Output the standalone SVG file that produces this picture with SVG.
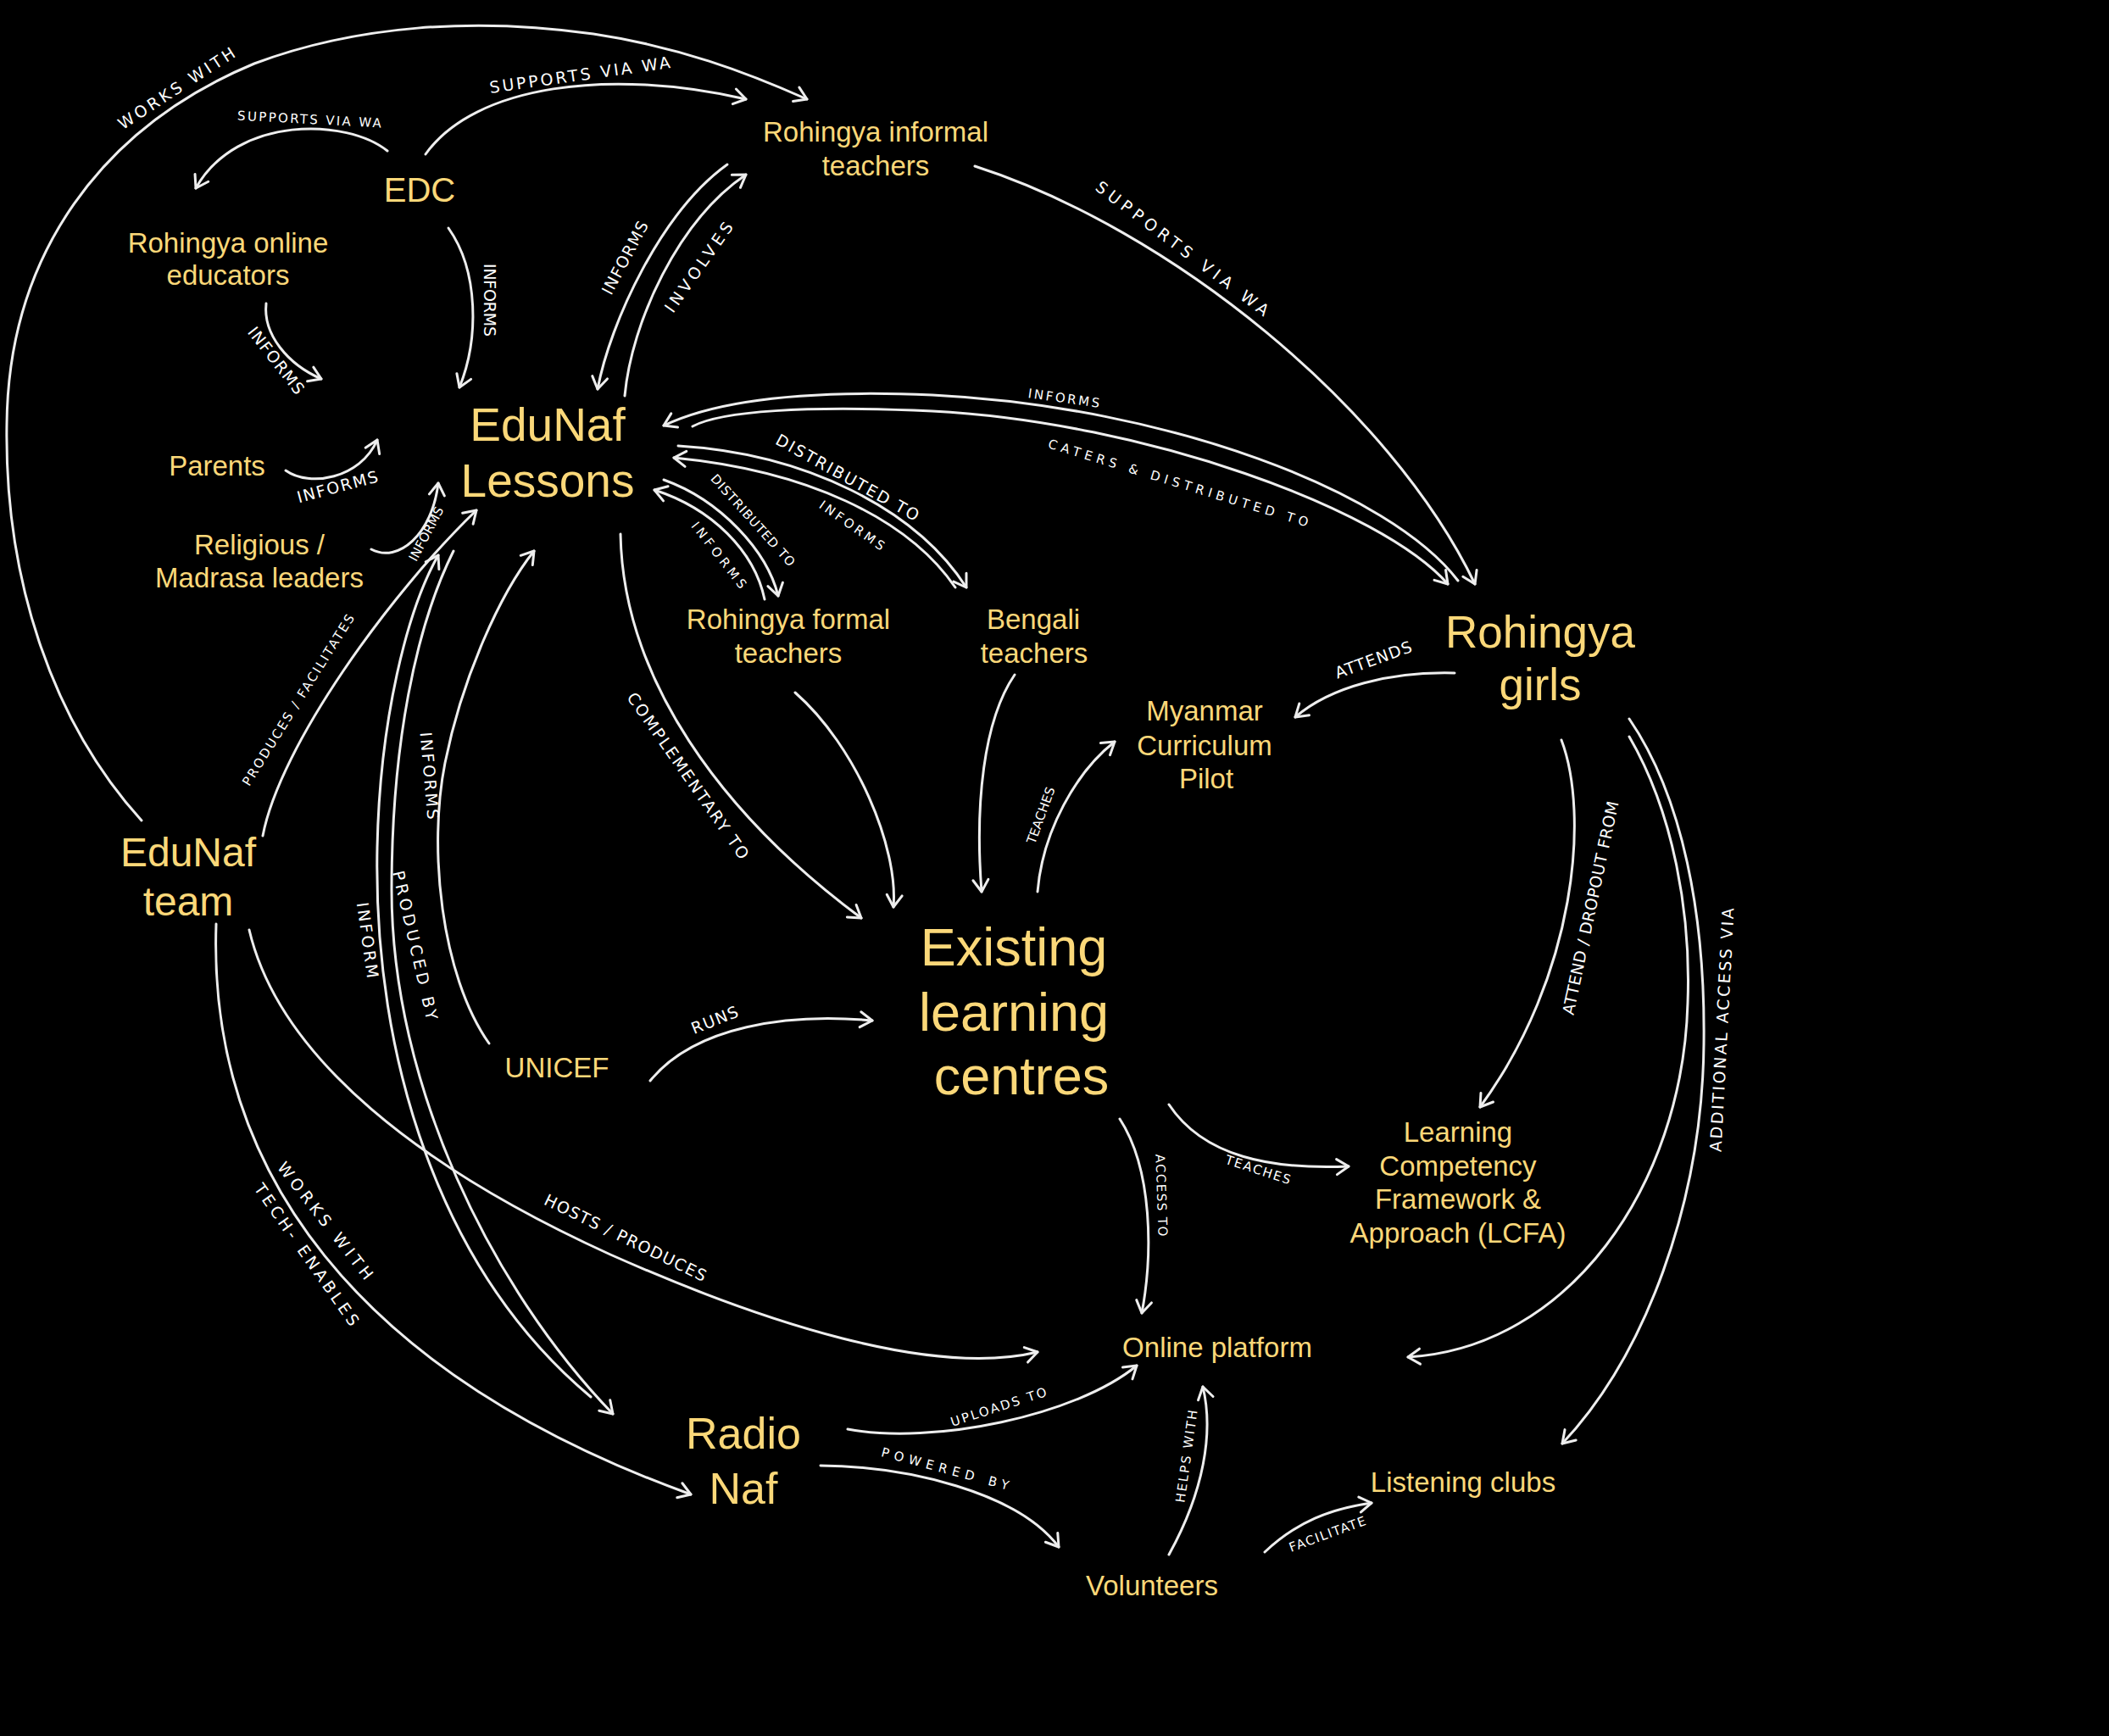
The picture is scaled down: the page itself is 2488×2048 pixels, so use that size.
<svg xmlns="http://www.w3.org/2000/svg" width="2488" height="2048" viewBox="0 0 2488 2048">
<defs>
<marker id="a" viewBox="0 0 24 24" refX="20" refY="12" markerWidth="24" markerHeight="24" markerUnits="userSpaceOnUse" orient="auto">
<path d="M6,3 L20,12 L6,21" fill="none" stroke="#EEEEEE" stroke-width="3" stroke-linecap="round" stroke-linejoin="round"/>
</marker>
<style>
.n{font-family:"Liberation Sans",Arial,sans-serif;fill:#FBD879;text-anchor:middle}
.s{font-size:33px}
.e path{fill:none;stroke:#EEEEEE;stroke-width:3;stroke-linecap:round;marker-end:url(#a)}
.lb,.ls{font-family:"DejaVu Sans",sans-serif;fill:#FFFFFF;text-anchor:middle;dominant-baseline:central}
.lb{font-size:19px}
.ls{font-size:15px}
</style>
</defs>
<rect width="2488" height="2048" fill="#000"/>
<g id="connectors" class="e">
<path d="M167,968 C60,850 5,680 8,500 C10,300 120,150 300,75 C420,30 560,20 700,40 C800,55 880,85 952,117"/>
<path d="M457,178 C410,140 280,135 231,222"/>
<path d="M502,182 C560,100 720,80 880,117"/>
<path d="M529,269 C565,320 565,400 542,457"/>
<path d="M314,358 C310,395 340,430 379,447"/>
<path d="M337,555 C365,575 425,565 445,519"/>
<path d="M438,648 C470,665 510,630 517,570"/>
<path d="M310,986 C330,880 460,700 562,602"/>
<path d="M255,1090 C245,1380 420,1620 815,1763"/>
<path d="M294,1097 C330,1250 500,1380 720,1480 C900,1560 1100,1625 1224,1595"/>
<path d="M697,1648 C520,1500 440,1250 445,1000 C448,850 480,720 517,655"/>
<path d="M535,650 C490,740 462,880 462,1050 C462,1280 580,1520 723,1668"/>
<path d="M577,1231 C520,1150 505,1000 525,900 C545,800 590,700 630,650"/>
<path d="M767,1275 C820,1210 930,1195 1029,1204"/>
<path d="M732,630 C735,800 850,960 1016,1083"/>
<path d="M938,817 C1010,880 1060,1000 1054,1070"/>
<path d="M1197,796 C1160,850 1150,950 1158,1052"/>
<path d="M1224,1052 C1230,980 1270,910 1315,875"/>
<path d="M1716,794 C1640,792 1570,810 1528,846"/>
<path d="M1842,873 C1875,960 1860,1150 1746,1306"/>
<path d="M1922,869 C1975,960 1995,1080 1991,1183 C1985,1400 1850,1590 1661,1601"/>
<path d="M1922,848 C1985,940 2012,1080 2010,1232 C2008,1420 1940,1600 1843,1703"/>
<path d="M1379,1303 C1420,1365 1500,1380 1591,1376"/>
<path d="M1321,1320 C1360,1380 1360,1480 1347,1549"/>
<path d="M1000,1686 C1100,1705 1270,1670 1341,1611"/>
<path d="M968,1729 C1070,1730 1200,1760 1249,1825"/>
<path d="M1379,1834 C1420,1760 1432,1690 1419,1636"/>
<path d="M1492,1831 C1530,1795 1570,1780 1618,1773"/>
<path d="M1150,196 C1380,270 1640,480 1740,689"/>
<path d="M1720,685 C1640,580 1380,480 1100,466 C960,460 850,470 783,502"/>
<path d="M817,503 C850,485 950,478 1100,485 C1350,498 1630,600 1708,689"/>
<path d="M800,526 C950,535 1080,600 1140,693"/>
<path d="M1127,693 C1070,610 950,555 795,540"/>
<path d="M783,566 C850,590 905,650 918,703"/>
<path d="M902,707 C890,650 840,600 772,578"/>
<path d="M858,194 C780,250 720,380 705,459"/>
<path d="M737,467 C745,380 800,260 880,206"/>
</g>
<g id="labels">
<text class="lb" transform="translate(208,104) rotate(-33)" textLength="160">WORKS WITH</text>
<text class="ls" transform="translate(365,141) rotate(3)" textLength="170">SUPPORTS VIA WA</text>
<text class="lb" transform="translate(684,88) rotate(-8)" textLength="215">SUPPORTS VIA WA</text>
<text class="lb" transform="translate(578,354) rotate(90)" textLength="86">INFORMS</text>
<text class="lb" transform="translate(326,425) rotate(52)" textLength="95">INFORMS</text>
<text class="lb" transform="translate(398,574) rotate(-15)" textLength="98">INFORMS</text>
<text class="ls" transform="translate(503,630) rotate(-62)" textLength="70">INFORMS</text>
<text class="ls" transform="translate(352,826) rotate(-58)" textLength="235">PRODUCES / FACILITATES</text>
<text class="lb" transform="translate(384,1440) rotate(52)" textLength="170">WORKS WITH</text>
<text class="lb" transform="translate(362,1480) rotate(55)" textLength="200">TECH- ENABLES</text>
<text class="lb" transform="translate(738,1460) rotate(26)" textLength="210">HOSTS / PRODUCES</text>
<text class="lb" transform="translate(434,1109) rotate(82)" textLength="90">INFORM</text>
<text class="lb" transform="translate(490,1115) rotate(77)" textLength="180">PRODUCED BY</text>
<text class="lb" transform="translate(507,915) rotate(85)" textLength="103">INFORMS</text>
<text class="lb" transform="translate(843,1203) rotate(-22)" textLength="58">RUNS</text>
<text class="lb" transform="translate(812,915) rotate(55)" textLength="235">COMPLEMENTARY TO</text>
<text class="ls" transform="translate(1228,962) rotate(-70)" textLength="70">TEACHES</text>
<text class="lb" transform="translate(1620,778) rotate(-20)" textLength="95">ATTENDS</text>
<text class="lb" transform="translate(1876,1071) rotate(-78)" textLength="257">ATTEND / DROPOUT FROM</text>
<text class="lb" transform="translate(2031,1215) rotate(-87)" textLength="288">ADDITIONAL ACCESS VIA</text>
<text class="ls" transform="translate(1484,1380) rotate(18)" textLength="80">TEACHES</text>
<text class="ls" transform="translate(1370,1410) rotate(88)" textLength="97">ACCESS TO</text>
<text class="ls" transform="translate(1178,1660) rotate(-18)" textLength="118">UPLOADS TO</text>
<text class="ls" transform="translate(1115,1733) rotate(15)" textLength="155">POWERED BY</text>
<text class="ls" transform="translate(1400,1718) rotate(-82)" textLength="110">HELPS WITH</text>
<text class="ls" transform="translate(1566,1810) rotate(-20)" textLength="95">FACILITATE</text>
<text class="lb" transform="translate(1395,293) rotate(37)" textLength="250">SUPPORTS VIA WA</text>
<text class="ls" transform="translate(1255,470) rotate(8)" textLength="85">INFORMS</text>
<text class="ls" transform="translate(1390,570) rotate(17)" textLength="320">CATERS &amp; DISTRIBUTED TO</text>
<text class="lb" transform="translate(1000,563) rotate(29)" textLength="190">DISTRIBUTED TO</text>
<text class="ls" transform="translate(1005,620) rotate(35)" textLength="90">INFORMS</text>
<text class="ls" transform="translate(888,614) rotate(48)" textLength="140">DISTRIBUTED TO</text>
<text class="ls" transform="translate(848,655) rotate(52)" textLength="95">INFORMS</text>
<text class="lb" transform="translate(737,304) rotate(-62)" textLength="95">INFORMS</text>
<text class="lb" transform="translate(824,315) rotate(-55)" textLength="125">INVOLVES</text>
</g>
<g id="n-edc"><text class="n" x="495" y="238" font-size="40">EDC</text></g>
<g id="n-informal"><text class="n s" x="1033" y="167">Rohingya informal</text><text class="n s" x="1033" y="207">teachers</text></g>
<g id="n-online"><text class="n s" x="269" y="298">Rohingya online</text><text class="n s" x="269" y="336">educators</text></g>
<g id="n-lessons"><text class="n" x="646" y="520" font-size="55">EduNaf</text><text class="n" x="646" y="586" font-size="55">Lessons</text></g>
<g id="n-parents"><text class="n s" x="256" y="561">Parents</text></g>
<g id="n-religious"><text class="n s" x="306" y="654">Religious /</text><text class="n s" x="306" y="693">Madrasa leaders</text></g>
<g id="n-team"><text class="n" x="222" y="1022" font-size="48">EduNaf</text><text class="n" x="222" y="1080" font-size="48">team</text></g>
<g id="n-formal"><text class="n s" x="930" y="742">Rohingya formal</text><text class="n s" x="930" y="782">teachers</text></g>
<g id="n-bengali"><text class="n s" x="1219" y="742">Bengali</text><text class="n s" x="1220" y="782">teachers</text></g>
<g id="n-girls"><text class="n" x="1817" y="764" font-size="53">Rohingya</text><text class="n" x="1817" y="826" font-size="53">girls</text></g>
<g id="n-myanmar"><text class="n s" x="1421" y="850">Myanmar</text><text class="n s" x="1421" y="891">Curriculum</text><text class="n s" x="1423" y="930">Pilot</text></g>
<g id="n-existing"><text class="n" x="1196" y="1139" font-size="63">Existing</text><text class="n" x="1196" y="1216" font-size="63">learning</text><text class="n" x="1205" y="1291" font-size="63">centres</text></g>
<g id="n-unicef"><text class="n s" x="657" y="1271">UNICEF</text></g>
<g id="n-lcfa"><text class="n s" x="1720" y="1347">Learning</text><text class="n s" x="1720" y="1387">Competency</text><text class="n s" x="1720" y="1426">Framework &amp;</text><text class="n s" x="1720" y="1466">Approach (LCFA)</text></g>
<g id="n-platform"><text class="n s" x="1436" y="1601">Online platform</text></g>
<g id="n-radio"><text class="n" x="877" y="1709" font-size="52">Radio</text><text class="n" x="877" y="1774" font-size="52">Naf</text></g>
<g id="n-volunteers"><text class="n s" x="1359" y="1882">Volunteers</text></g>
<g id="n-clubs"><text class="n s" x="1726" y="1760">Listening clubs</text></g>
</svg>
